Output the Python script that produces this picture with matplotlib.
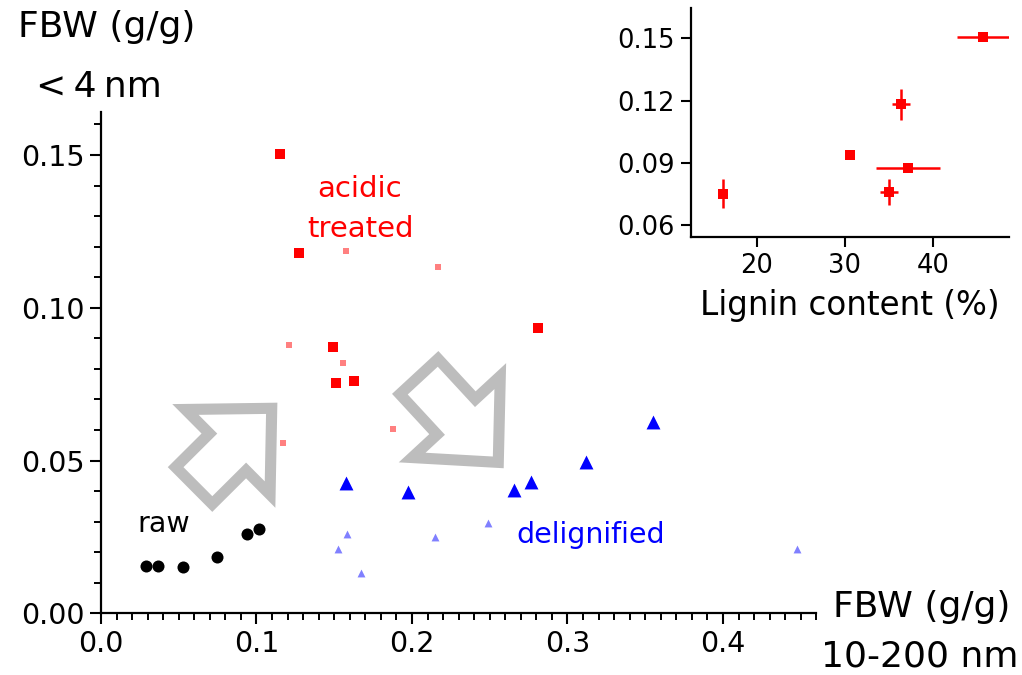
import matplotlib
matplotlib.use("Agg")
import matplotlib.pyplot as plt
from matplotlib.ticker import MultipleLocator, FormatStrFormatter

# ---- data (main plot) ----
raw_x = [0.0289, 0.0365, 0.0529, 0.0744, 0.0937, 0.1018]
raw_y = [0.0156, 0.0156, 0.0153, 0.0185, 0.0259, 0.0275]

acid_x = [0.1151, 0.1275, 0.1490, 0.1509, 0.1627, 0.2810]
acid_y = [0.1503, 0.1178, 0.0873, 0.0753, 0.0759, 0.0933]

acid_small_x = [0.1576, 0.2169, 0.1209, 0.1554, 0.1876, 0.1168]
acid_small_y = [0.1185, 0.1134, 0.0879, 0.0820, 0.0602, 0.0556]

delig_x = [0.1576, 0.1972, 0.2654, 0.2765, 0.3117, 0.3548]
delig_y = [0.0426, 0.0396, 0.0404, 0.0431, 0.0494, 0.0625]

delig_small_x = [0.1582, 0.1522, 0.1672, 0.2148, 0.2491, 0.4474]
delig_small_y = [0.0259, 0.0210, 0.0133, 0.0251, 0.0297, 0.0209]

# ---- data (inset) ----
lignin = [45.7, 36.4, 30.6, 37.2, 35.0, 16.2]
lignin_err = [3.0, 1.0, 0.4, 3.6, 1.0, 0.4]
fbw_lig = [0.1506, 0.1183, 0.0937, 0.0876, 0.0760, 0.0753]
fbw_lig_err = [0.0008, 0.0074, 0.0015, 0.0015, 0.0063, 0.0068]

# ---- annotation arrows (tail -> tip, data coords) ----
arrow1_tail, arrow1_tip = (0.0598, 0.0418), (0.1098, 0.0671)
arrow2_tail, arrow2_tip = (0.2045, 0.0775), (0.2555, 0.0494)

W, H = 1022, 675
fig = plt.figure(figsize=(W / 100, H / 100), dpi=100)
plt.rcParams['font.family'] = ['DejaVu Sans']

ax = fig.add_axes([0.0988, 0.0914, 0.6999, 0.7423])
ax.set_xlim(0, 0.46)
ax.set_ylim(0, 0.164)
for s in ['top', 'right']:
    ax.spines[s].set_visible(False)
for s in ['left', 'bottom']:
    ax.spines[s].set_linewidth(1.6)
ax.xaxis.set_major_locator(MultipleLocator(0.1))
ax.xaxis.set_minor_locator(MultipleLocator(0.01))
ax.yaxis.set_major_locator(MultipleLocator(0.05))
ax.yaxis.set_minor_locator(MultipleLocator(0.01))
ax.xaxis.set_major_formatter(FormatStrFormatter('%.1f'))
ax.yaxis.set_major_formatter(FormatStrFormatter('%.2f'))
ax.tick_params(which='major', direction='out', length=8, width=1.5, labelsize=20.5, pad=4)
ax.tick_params(which='minor', direction='out', length=5, width=1.4)

ax.scatter(delig_small_x, delig_small_y, marker='^', s=32, color='#8080ff', linewidths=0, zorder=3)
ax.scatter(acid_small_x, acid_small_y, marker='s', s=14, color='#ff8080', linewidths=0, zorder=3)
ax.scatter(raw_x, raw_y, marker='o', s=75, color='black', linewidths=0, zorder=4)
ax.scatter(acid_x, acid_y, marker='s', s=55, color='#ff0000', linewidths=0, zorder=4)
ax.scatter(delig_x, delig_y, marker='^', s=100, color='#0000ff', linewidths=0, zorder=4)

arrowstyle = "simple,head_length=0.62,head_width=1.2,tail_width=0.52"
for tail, tip in [(arrow1_tail, arrow1_tip), (arrow2_tail, arrow2_tip)]:
    ax.annotate("", xy=tip, xytext=tail, xycoords='data', textcoords='data',
                arrowprops=dict(arrowstyle=arrowstyle, mutation_scale=72,
                                fc='none', ec='#bdbdbd', lw=8,
                                shrinkA=0, shrinkB=0, joinstyle='miter'),
                zorder=2)

ax.text(0.1666, 0.1364, "acidic", color='#ff0000', fontsize=21, ha='center', va='baseline')
ax.text(0.1666, 0.1233, "treated", color='#ff0000', fontsize=21, ha='center', va='baseline')
ax.text(0.0401, 0.0267, "raw", color='black', fontsize=20.5, ha='center', va='baseline')
ax.text(0.315, 0.0229, "delignified", color='#0000ff', fontsize=20.5, ha='center', va='baseline')

fig.text(0.1047, 0.9452, "FBW (g/g)", fontsize=26, ha='center', va='baseline')
fig.text(0.0969, 0.8567, "<\u20094\u2009nm", fontsize=26, ha='center', va='baseline')
fig.text(0.9017, 0.0864, "FBW (g/g)", fontsize=26, ha='center', va='baseline')
fig.text(0.9000, 0.0123, "10-200 nm", fontsize=26, ha='center', va='baseline')

# ---- inset ----
axi = fig.add_axes([0.6761, 0.6493, 0.3115, 0.3384])
axi.set_xlim(12.53, 48.7)
axi.set_ylim(0.0545, 0.1645)
for s in ['top', 'right']:
    axi.spines[s].set_visible(False)
for s in ['left', 'bottom']:
    axi.spines[s].set_linewidth(1.6)
axi.set_xticks([20, 30, 40])
axi.set_yticks([0.06, 0.09, 0.12, 0.15])
axi.yaxis.set_major_formatter(FormatStrFormatter('%.2f'))
axi.tick_params(direction='out', length=7, width=1.5, labelsize=18.5, pad=5)
axi.errorbar(lignin, fbw_lig, xerr=lignin_err, yerr=fbw_lig_err, fmt='s', color='#ff0000',
             ms=7.5, mew=0, elinewidth=1.8, capsize=0)
axi.set_xlabel("Lignin content (%)", fontsize=23.5, labelpad=7)

fig.savefig("out.png", dpi=100)
